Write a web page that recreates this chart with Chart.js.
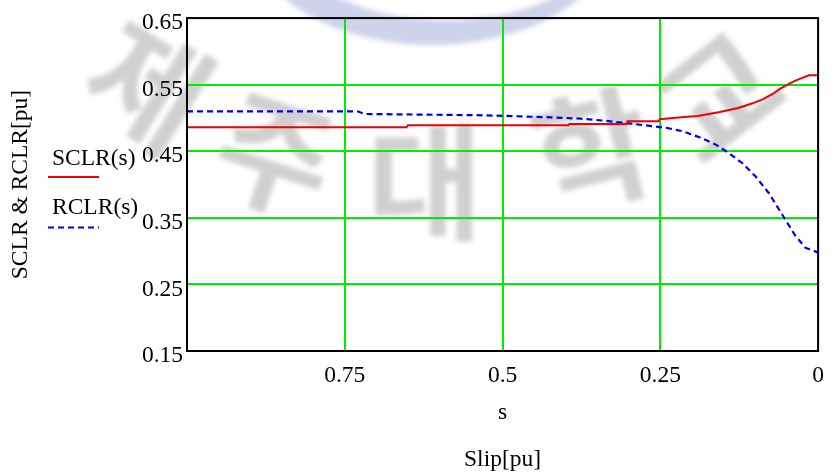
<!DOCTYPE html>
<html>
<head>
<meta charset="utf-8">
<script src="https://cdn.jsdelivr.net/npm/chart.js@4.4.1/dist/chart.umd.min.js"></script>
<style>
  html, body { margin: 0; padding: 0; background: #ffffff; }
  canvas { display: block; }
</style>
</head>
<body>
<canvas id="chart" width="835" height="473"></canvas>
<script>
// Slip points (pu) and stator-side loss ratio SCLR(s)
const sclrSlip   = [1, 0.652, 0.650, 0.396, 0.394, 0.304, 0.302, 0.253, 0.251, 0.217, 0.191, 0.173, 0.156, 0.141, 0.127, 0.117, 0.104, 0.088, 0.072, 0.060, 0.047, 0.036, 0.028, 0.015, 0];
const sclrValues = [0.486, 0.486, 0.489, 0.489, 0.491, 0.491, 0.495, 0.495, 0.498, 0.501, 0.503, 0.506, 0.509, 0.512, 0.515, 0.518, 0.522, 0.528, 0.536, 0.544, 0.551, 0.556, 0.559, 0.564, 0.564];

// Slip points (pu) and rotor-side loss ratio RCLR(s)
const rclrSlip   = [1, 0.730, 0.718, 0.528, 0.424, 0.377, 0.339, 0.292, 0.240, 0.214, 0.188, 0.162, 0.141, 0.120, 0.099, 0.078, 0.057, 0.036, 0.020, 0];
const rclrValues = [0.510, 0.510, 0.506, 0.504, 0.501, 0.499, 0.496, 0.491, 0.485, 0.480, 0.471, 0.460, 0.447, 0.432, 0.412, 0.387, 0.355, 0.323, 0.305, 0.298];

// Axis ticks
const xTickValues = [1, 0.75, 0.5, 0.25, 0];
const yTickValues = [0.15, 0.25, 0.35, 0.45, 0.55, 0.65];

const seriesLabels = ['SCLR(s)', 'RCLR(s)'];
const yAxisTitle = 'SCLR & RCLR[pu]';
const xAxisTitle = ['s', 'Slip[pu]'];
const watermarkChars = ['제', '주', '대', '학', '교'];

const SERIF = "'Liberation Serif', 'Times New Roman', serif";
const FONT_SIZE = 23.5;
const GRID_GREEN = '#00ec00';

const toPoints = (xs, ys) => xs.map((x, i) => ({ x: x, y: ys[i] }));

// Faded library watermark behind the plot
const watermarkPlugin = {
  id: 'watermark',
  beforeDraw(chart) {
    const ctx = chart.ctx;
    ctx.save();
    ctx.fillStyle = '#ffffff';
    ctx.fillRect(0, 0, chart.width, chart.height);

    ctx.filter = 'blur(2.5px)';
    // blue crescent emblem
    ctx.beginPath();
    ctx.ellipse(432, -62, 178, 107, 0, 0, Math.PI);
    ctx.ellipse(446, -72, 165, 92, 0, Math.PI, 0, true);
    ctx.closePath();
    ctx.fillStyle = 'rgba(160,166,215,0.5)';
    ctx.fill();

    const glyphs = [
      { cx: 148, cy: 86, rot: 32 },
      { cx: 275, cy: 155, rot: 18 },
      { cx: 425, cy: 182, rot: 0 },
      { cx: 592, cy: 150, rot: -14 },
      { cx: 718, cy: 96, rot: -38 }
    ];
    ctx.font = "bold 126px 'Noto Sans CJK KR', sans-serif";
    ctx.textAlign = 'center';
    ctx.textBaseline = 'middle';
    ctx.fillStyle = 'rgba(110,110,110,0.32)';
    glyphs.forEach((g, i) => {
      ctx.save();
      ctx.translate(g.cx, g.cy);
      ctx.rotate(g.rot * Math.PI / 180);
      ctx.fillText(watermarkChars[i], 0, 0);
      ctx.restore();
    });
    ctx.restore();
  }
};

// Black frame round the plot area
const framePlugin = {
  id: 'frame',
  afterDraw(chart) {
    const { ctx, chartArea: a } = chart;
    ctx.save();
    ctx.strokeStyle = '#000000';
    ctx.lineWidth = 2;
    ctx.strokeRect(a.left, a.top, a.right - a.left, a.bottom - a.top);
    ctx.restore();
  }
};

// Series key: name above a sample of the line style
const keyPlugin = {
  id: 'seriesKey',
  afterDraw(chart) {
    const ctx = chart.ctx;
    const baselines = [165, 214];
    const lineYs = [177, 227.5];
    ctx.save();
    chart.data.datasets.forEach((ds, i) => {
      ctx.font = FONT_SIZE + 'px ' + SERIF;
      ctx.fillStyle = '#000000';
      ctx.textAlign = 'left';
      ctx.textBaseline = 'alphabetic';
      ctx.fillText(ds.label, 52, baselines[i]);
      ctx.beginPath();
      ctx.setLineDash(ds.borderDash || []);
      ctx.strokeStyle = ds.borderColor;
      ctx.lineWidth = ds.borderWidth;
      ctx.moveTo(48, lineYs[i]);
      ctx.lineTo(99, lineYs[i]);
      ctx.stroke();
    });
    ctx.restore();
  }
};

new Chart(document.getElementById('chart'), {
  type: 'line',
  data: {
    datasets: [
      {
        label: seriesLabels[0],
        data: toPoints(sclrSlip, sclrValues),
        borderColor: '#f00000',
        borderWidth: 2,
        pointRadius: 0,
        tension: 0,
        fill: false
      },
      {
        label: seriesLabels[1],
        data: toPoints(rclrSlip, rclrValues),
        borderColor: '#0000f0',
        borderWidth: 2.2,
        borderDash: [6, 4],
        pointRadius: 0,
        tension: 0,
        fill: false
      }
    ]
  },
  options: {
    responsive: false,
    animation: false,
    devicePixelRatio: 1,
    layout: { padding: { left: 0, top: 15, right: 13, bottom: 0 } },
    plugins: {
      legend: { display: false },
      tooltip: { enabled: false }
    },
    scales: {
      x: {
        type: 'linear',
        reverse: true,
        min: 0,
        max: 1,
        afterBuildTicks: (scale) => { scale.ticks = xTickValues.map(v => ({ value: v })); },
        afterFit: (scale) => { scale.height = 122; },
        grid: { color: GRID_GREEN, lineWidth: 2, drawTicks: false },
        border: { display: false },
        ticks: {
          color: '#000000',
          padding: 11,
          maxRotation: 0,
          autoSkip: false,
          font: { family: SERIF, size: FONT_SIZE },
          callback: (v) => (v === 1 ? '' : String(v))
        },
        title: {
          display: true,
          text: xAxisTitle,
          color: '#000000',
          font: { family: SERIF, size: FONT_SIZE, lineHeight: '47px' },
          padding: { top: 0, bottom: -10.5 }
        }
      },
      y: {
        type: 'linear',
        min: 0.15,
        max: 0.65,
        afterBuildTicks: (scale) => { scale.ticks = yTickValues.map(v => ({ value: v })); },
        afterFit: (scale) => { scale.width = 187; },
        grid: { color: GRID_GREEN, lineWidth: 2, drawTicks: false },
        border: { display: false },
        ticks: {
          color: '#000000',
          padding: 4,
          labelOffset: 5,
          autoSkip: false,
          font: { family: SERIF, size: FONT_SIZE },
          callback: (v) => Number(v).toFixed(2)
        },
        title: {
          display: true,
          text: yAxisTitle,
          color: '#000000',
          font: { family: SERIF, size: FONT_SIZE, lineHeight: 1.2 },
          padding: { top: 7, bottom: 0 }
        }
      }
    }
  },
  plugins: [watermarkPlugin, framePlugin, keyPlugin]
});
</script>
</body>
</html>
